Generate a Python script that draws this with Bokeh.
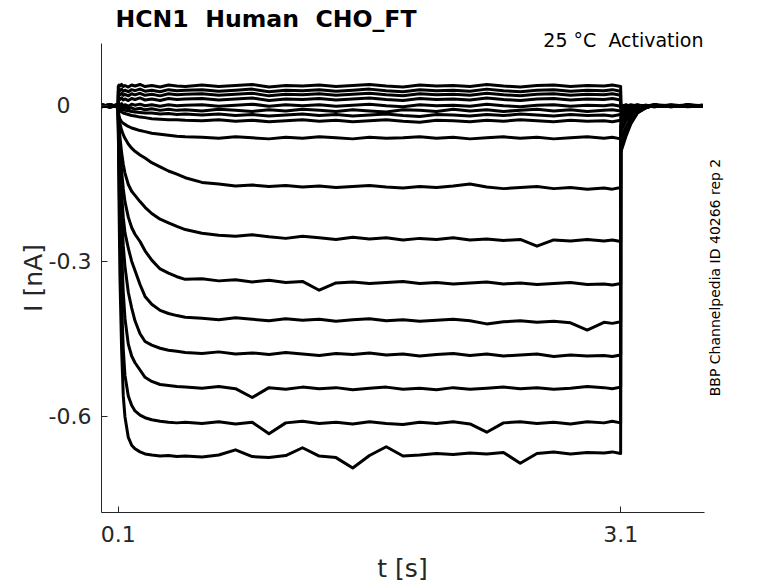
from math import pi
from bokeh.plotting import figure
from bokeh.models import Range1d, FixedTicker, Label
from bokeh.embed import file_html
from bokeh.resources import INLINE

# ---------------- data ----------------
title_text = "HCN1 \u00a0Human \u00a0CHO_FT"
cond_text = "25 °C \u00a0Activation"
side_text = "BBP Channelpedia ID 40266 rep 2"
x_label = "t [s]"
y_label = "I [nA]"

x_ticks = [0.1, 3.1]
x_tick_labels = ["0.1", "3.1"]
y_ticks = [-0.6, -0.3, 0.0]
y_tick_labels = ["-0.6", "-0.3", "0\u00a0\u00a0\u00a0"]

# sample times [s]
t_s = [0.0, 0.05, 0.0995,
       0.1, 0.105, 0.11, 0.12, 0.13, 0.14, 0.16, 0.18, 0.2, 0.23, 0.26, 0.3, 0.35, 0.4, 0.45, 0.5,
       0.6, 0.7, 0.8, 0.9, 1.0, 1.1, 1.2, 1.3, 1.4, 1.5, 1.6, 1.7, 1.8, 1.9, 2.0, 2.1, 2.2, 2.3, 2.4, 2.5, 2.6, 2.7, 2.8, 2.9, 3.0,
       3.05, 3.0995, 3.1, 3.11, 3.13, 3.16, 3.2, 3.25, 3.3, 3.4, 3.5, 3.59]

# current sweeps [nA]
sweep_01 = [0.002, -0.003, 0.001,
            0.037, 0.040, 0.038, 0.041, 0.037, 0.039, 0.036, 0.040, 0.038, 0.041, 0.037, 0.039, 0.036, 0.040, 0.038, 0.037,
            0.040, 0.037, 0.039, 0.041, 0.036, 0.039, 0.038, 0.040, 0.037, 0.039, 0.041, 0.038, 0.036, 0.040, 0.038, 0.039, 0.037, 0.041, 0.038, 0.036, 0.039, 0.040, 0.037, 0.039, 0.038,
            0.040, 0.037, 0.001, -0.002, 0.002, -0.001, 0.002, -0.002, 0.001, -0.001, 0.002, 0.000]
sweep_02 = [-0.001, 0.002, -0.002,
            0.028, 0.031, 0.029, 0.032, 0.028, 0.030, 0.027, 0.031, 0.029, 0.032, 0.028, 0.030, 0.027, 0.031, 0.029, 0.030,
            0.031, 0.028, 0.030, 0.032, 0.027, 0.030, 0.029, 0.031, 0.028, 0.030, 0.032, 0.029, 0.027, 0.031, 0.029, 0.030, 0.028, 0.032, 0.029, 0.027, 0.030, 0.031, 0.028, 0.030, 0.029,
            0.031, 0.028, -0.002, 0.001, -0.003, 0.002, -0.001, 0.001, -0.002, 0.002, -0.001, 0.001]
sweep_03 = [0.001, -0.002, 0.003,
            0.020, 0.023, 0.021, 0.024, 0.020, 0.022, 0.019, 0.023, 0.021, 0.024, 0.020, 0.022, 0.019, 0.023, 0.021, 0.022,
            0.023, 0.020, 0.022, 0.024, 0.019, 0.022, 0.021, 0.023, 0.020, 0.022, 0.024, 0.021, 0.019, 0.023, 0.021, 0.022, 0.020, 0.024, 0.021, 0.019, 0.022, 0.023, 0.020, 0.022, 0.021,
            0.023, 0.020, -0.003, -0.001, 0.001, -0.002, 0.001, -0.001, 0.002, -0.002, 0.001, -0.001]
sweep_04 = [-0.002, 0.001, -0.001,
            0.011, 0.014, 0.012, 0.015, 0.011, 0.013, 0.010, 0.014, 0.012, 0.015, 0.011, 0.013, 0.010, 0.014, 0.012, 0.013,
            0.014, 0.011, 0.013, 0.015, 0.010, 0.013, 0.012, 0.014, 0.011, 0.013, 0.015, 0.012, 0.010, 0.014, 0.012, 0.013, 0.011, 0.015, 0.012, 0.010, 0.013, 0.014, 0.011, 0.013, 0.012,
            0.014, 0.011, -0.004, -0.002, -0.003, 0.000, -0.002, 0.001, -0.001, 0.001, -0.002, 0.000]
sweep_05 = [0.002, -0.001, 0.001,
            0.000, 0.003, 0.001, 0.004, 0.000, 0.002, -0.001, 0.003, 0.001, 0.003, 0.000, 0.002, -0.001, 0.002, 0.000, 0.001,
            0.002, -0.001, 0.001, 0.003, -0.001, 0.002, 0.000, 0.002, -0.001, 0.001, 0.003, 0.000, -0.002, 0.002, 0.000, 0.001, -0.001, 0.003, 0.000, -0.002, 0.001, 0.002, -0.001, 0.001, 0.000,
            0.002, -0.001, -0.006, -0.004, -0.003, -0.001, 0.001, -0.001, 0.002, 0.000, -0.001, 0.001]
sweep_06 = [-0.001, 0.002, -0.002,
            -0.003, -0.001, -0.004, -0.002, -0.005, -0.003, -0.006, -0.004, -0.007, -0.005, -0.008, -0.006, -0.009, -0.007, -0.009, -0.008,
            -0.010, -0.007, -0.009, -0.011, -0.008, -0.010, -0.007, -0.009, -0.011, -0.008, -0.010, -0.012, -0.008, -0.009, -0.011, -0.007, -0.010, -0.008, -0.011, -0.009, -0.007, -0.010, -0.008, -0.011, -0.009,
            -0.008, -0.010, -0.010, -0.007, -0.004, -0.002, 0.000, -0.002, 0.001, -0.001, 0.001, -0.001]
sweep_07 = [0.001, -0.002, 0.002,
            -0.004, -0.006, -0.005, -0.008, -0.007, -0.009, -0.010, -0.011, -0.012, -0.013, -0.014, -0.014, -0.016, -0.015, -0.017, -0.016,
            -0.018, -0.016, -0.019, -0.017, -0.020, -0.018, -0.016, -0.019, -0.017, -0.020, -0.018, -0.016, -0.019, -0.021, -0.017, -0.018, -0.020, -0.017, -0.019, -0.016, -0.018, -0.020, -0.017, -0.019, -0.018,
            -0.020, -0.017, -0.015, -0.011, -0.007, -0.004, -0.001, 0.000, -0.002, 0.001, -0.001, 0.001]
sweep_08 = [-0.002, 0.001, -0.001,
            -0.006, -0.009, -0.010, -0.012, -0.014, -0.015, -0.017, -0.019, -0.020, -0.022, -0.023, -0.025, -0.026, -0.027, -0.027, -0.028,
            -0.029, -0.027, -0.030, -0.028, -0.031, -0.029, -0.027, -0.030, -0.028, -0.031, -0.029, -0.027, -0.030, -0.032, -0.028, -0.029, -0.031, -0.028, -0.030, -0.027, -0.029, -0.031, -0.028, -0.030, -0.029,
            -0.031, -0.028, -0.022, -0.017, -0.011, -0.006, -0.003, -0.001, 0.001, -0.001, 0.001, -0.001]
sweep_09 = [0.001, -0.001, 0.002,
            -0.010, -0.020, -0.026, -0.031, -0.034, -0.036, -0.040, -0.043, -0.045, -0.048, -0.050, -0.053, -0.055, -0.057, -0.059, -0.060,
            -0.061, -0.063, -0.060, -0.062, -0.064, -0.061, -0.063, -0.060, -0.062, -0.064, -0.061, -0.063, -0.062, -0.060, -0.063, -0.061, -0.064, -0.062, -0.060, -0.063, -0.061, -0.064, -0.062, -0.060, -0.063,
            -0.061, -0.064, -0.030, -0.024, -0.016, -0.009, -0.004, -0.001, 0.001, -0.001, 0.001, -0.001]
sweep_10 = [-0.001, 0.002, -0.001,
            -0.012, -0.025, -0.035, -0.047, -0.056, -0.063, -0.074, -0.082, -0.088, -0.095, -0.101, -0.110, -0.118, -0.126, -0.132, -0.139,
            -0.148, -0.151, -0.155, -0.153, -0.156, -0.154, -0.157, -0.155, -0.158, -0.156, -0.154, -0.157, -0.159, -0.156, -0.158, -0.155, -0.151, -0.157, -0.160, -0.158, -0.156, -0.160, -0.158, -0.161, -0.159,
            -0.161, -0.158, -0.040, -0.032, -0.022, -0.012, -0.005, -0.001, 0.001, -0.001, 0.001, 0.000]
sweep_11 = [0.002, -0.002, 0.001,
            -0.015, -0.040, -0.060, -0.090, -0.113, -0.130, -0.152, -0.165, -0.173, -0.185, -0.196, -0.208, -0.219, -0.226, -0.233, -0.239,
            -0.246, -0.250, -0.252, -0.249, -0.253, -0.256, -0.252, -0.255, -0.258, -0.254, -0.257, -0.255, -0.259, -0.256, -0.258, -0.255, -0.259, -0.257, -0.260, -0.258, -0.271, -0.259, -0.261, -0.258, -0.261,
            -0.259, -0.262, -0.050, -0.043, -0.030, -0.018, -0.008, -0.002, 0.001, -0.001, 0.001, -0.001]
sweep_12 = [-0.002, 0.001, -0.003,
            -0.020, -0.050, -0.080, -0.125, -0.160, -0.185, -0.215, -0.235, -0.248, -0.262, -0.280, -0.298, -0.315, -0.323, -0.330, -0.335,
            -0.334, -0.338, -0.336, -0.340, -0.337, -0.341, -0.339, -0.356, -0.342, -0.340, -0.343, -0.341, -0.339, -0.343, -0.341, -0.344, -0.342, -0.340, -0.344, -0.342, -0.345, -0.343, -0.341, -0.345, -0.344,
            -0.346, -0.343, -0.063, -0.056, -0.042, -0.024, -0.010, -0.003, 0.001, -0.001, 0.001, 0.000]
sweep_13 = [0.001, -0.003, 0.002,
            -0.020, -0.060, -0.100, -0.170, -0.215, -0.245, -0.275, -0.300, -0.318, -0.345, -0.368, -0.383, -0.395, -0.401, -0.405, -0.408,
            -0.410, -0.413, -0.409, -0.412, -0.415, -0.411, -0.414, -0.412, -0.416, -0.413, -0.411, -0.415, -0.413, -0.416, -0.414, -0.412, -0.415, -0.421, -0.417, -0.415, -0.418, -0.416, -0.419, -0.433, -0.418,
            -0.420, -0.417, -0.072, -0.064, -0.048, -0.028, -0.011, -0.003, 0.001, -0.001, 0.001, -0.001]
sweep_14 = [-0.001, 0.002, -0.002,
            -0.025, -0.080, -0.130, -0.210, -0.270, -0.310, -0.360, -0.390, -0.415, -0.440, -0.455, -0.462, -0.468, -0.472, -0.474, -0.476,
            -0.478, -0.475, -0.479, -0.477, -0.480, -0.476, -0.479, -0.482, -0.478, -0.480, -0.477, -0.481, -0.479, -0.483, -0.480, -0.478, -0.482, -0.479, -0.483, -0.481, -0.479, -0.484, -0.481, -0.483, -0.482,
            -0.484, -0.481, -0.076, -0.068, -0.051, -0.030, -0.012, -0.003, 0.001, -0.001, 0.001, 0.000]
sweep_15 = [0.002, -0.001, 0.001,
            -0.030, -0.100, -0.170, -0.280, -0.360, -0.410, -0.460, -0.483, -0.496, -0.510, -0.524, -0.532, -0.538, -0.540, -0.542, -0.543,
            -0.545, -0.542, -0.546, -0.563, -0.544, -0.547, -0.543, -0.546, -0.544, -0.548, -0.545, -0.543, -0.547, -0.545, -0.548, -0.544, -0.547, -0.545, -0.543, -0.546, -0.544, -0.547, -0.545, -0.542, -0.544,
            -0.546, -0.543, -0.081, -0.072, -0.054, -0.032, -0.013, -0.004, 0.001, -0.001, 0.001, -0.001]
sweep_16 = [-0.002, 0.001, -0.001,
            -0.040, -0.140, -0.240, -0.380, -0.470, -0.520, -0.560, -0.578, -0.589, -0.597, -0.602, -0.606, -0.609, -0.611, -0.612, -0.611,
            -0.613, -0.610, -0.614, -0.611, -0.633, -0.612, -0.609, -0.613, -0.611, -0.614, -0.610, -0.613, -0.615, -0.611, -0.613, -0.610, -0.614, -0.630, -0.612, -0.610, -0.613, -0.611, -0.614, -0.610, -0.612,
            -0.609, -0.612, -0.085, -0.076, -0.057, -0.033, -0.013, -0.004, 0.001, -0.001, 0.001, 0.000]
sweep_17 = [0.001, -0.002, 0.002,
            -0.030, -0.200, -0.330, -0.470, -0.560, -0.600, -0.640, -0.655, -0.662, -0.668, -0.672, -0.674, -0.676, -0.675, -0.677, -0.676,
            -0.678, -0.674, -0.664, -0.677, -0.679, -0.675, -0.660, -0.676, -0.679, -0.699, -0.675, -0.658, -0.676, -0.674, -0.671, -0.673, -0.670, -0.672, -0.669, -0.690, -0.671, -0.668, -0.672, -0.669, -0.670,
            -0.668, -0.671, -0.090, -0.080, -0.060, -0.035, -0.014, -0.004, 0.001, -0.002, 0.001, -0.001]

sweeps = [sweep_01, sweep_02, sweep_03, sweep_04, sweep_05, sweep_06, sweep_07, sweep_08, sweep_09,
          sweep_10, sweep_11, sweep_12, sweep_13, sweep_14, sweep_15, sweep_16, sweep_17]

for i, s in enumerate(sweeps):
    assert len(s) == len(t_s), f"sweep {i+1}: {len(s)} vs {len(t_s)}"

# ---------------- figure ----------------
FONT = "DejaVu Sans"
AX = "#262626"
W, H = 776, 582

# The frame covers the whole canvas; the axes sit at fixed data locations
# (left edge t=0, bottom edge I=-0.785) and are bounded to the data box.
p = figure(width=W, height=H, output_backend="svg", toolbar_location=None,
           x_range=Range1d(-0.603, 4.030), y_range=Range1d(-0.920, 0.203),
           min_border_left=0, min_border_right=0, min_border_top=0, min_border_bottom=0,
           title=None)
p.outline_line_color = None
p.xgrid.visible = False
p.ygrid.visible = False
p.background_fill_color = "white"
p.border_fill_color = "white"

for s in sweeps:
    p.line(t_s, s, line_color="black", line_width=3.0, line_join="round")

for ax, ticks, labels, standoff, bnds, loc in ((p.xaxis[0], x_ticks, x_tick_labels, 13, (0, 3.6), -0.785),
                                               (p.yaxis[0], y_ticks, y_tick_labels, 10, (-0.785, 0.12), 0.0)):
    ax.fixed_location = loc
    ax.ticker = FixedTicker(ticks=ticks)
    ax.major_label_overrides = {t: l for t, l in zip(ticks, labels)}
    ax.bounds = bnds
    ax.major_tick_in = 6
    ax.major_tick_out = 0
    ax.minor_tick_line_color = None
    ax.axis_line_color = AX
    ax.axis_line_width = 1
    ax.major_tick_line_color = AX
    ax.major_label_text_font = FONT
    ax.major_label_text_font_size = "22px"
    ax.major_label_text_color = AX
    ax.major_label_standoff = standoff

def add_label(text, x, y, size, color="black", align="left", angle=0.0, style="normal"):
    # x, y: screen pixels measured from the canvas top-left corner
    p.add_layout(Label(x=x, y=H - y, x_units="screen", y_units="screen", text=text,
                       text_font=FONT, text_font_size=size, text_color=color,
                       text_align=align, text_baseline="alphabetic", angle=angle,
                       text_font_style=style))

add_label(title_text, 115, 18, "23.6px", style="bold")
add_label(cond_text, 703, 39, "19px", align="right")
add_label(side_text, 714, 277, "14px", align="center", angle=pi / 2)
add_label(y_label, 33, 277.5, "25px", color=AX, align="center", angle=pi / 2)
add_label(x_label, 402, 568, "25px", color=AX, align="center")

open("out.html", "w").write(file_html(p, INLINE))
